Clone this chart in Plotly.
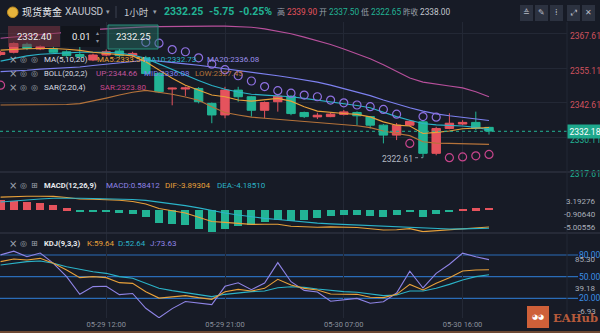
import plotly.graph_objects as go
from plotly.subplots import make_subplots

# ---------------- data ----------------
tick_idx = [8, 17, 26, 35]
tick_text = ["05-29 12:00", "05-29 21:00", "05-30 07:00", "05-30 16:00"]

open_ = [2360.0, 2360.8, 2363.7, 2362.0, 2362.2, 2361.0, 2360.0, 2358.0, 2359.8, 2361.3,
         2359.6, 2358.8, 2353.1, 2347.5, 2347.5, 2347.7, 2342.3, 2338.1, 2347.1, 2344.7,
         2339.8, 2342.9, 2344.9, 2339.0, 2337.4, 2337.5, 2338.3, 2339.0, 2337.5, 2334.4,
         2330.8, 2334.4, 2335.6, 2324.2, 2333.2, 2334.8, 2335.4, 2333.6]
high = [2361.3, 2364.4, 2364.3, 2363.3, 2362.8, 2361.5, 2363.8, 2360.3, 2361.8, 2362.0,
        2361.0, 2359.5, 2353.5, 2348.0, 2348.4, 2348.2, 2342.6, 2348.3, 2348.3, 2345.0,
        2343.0, 2345.3, 2345.2, 2339.3, 2338.9, 2339.0, 2339.9, 2339.4, 2337.7, 2334.8,
        2335.2, 2336.2, 2335.9, 2333.8, 2338.7, 2336.2, 2339.3, 2333.8]
low = [2359.6, 2360.4, 2361.6, 2361.6, 2360.4, 2359.2, 2358.6, 2357.6, 2359.4, 2359.0,
       2359.0, 2352.6, 2346.0, 2341.6, 2345.0, 2342.3, 2335.1, 2336.9, 2342.9, 2337.5,
       2336.9, 2339.3, 2338.0, 2337.0, 2336.6, 2337.3, 2337.9, 2334.4, 2333.2, 2327.8,
       2329.0, 2334.0, 2322.61, 2323.5, 2332.9, 2334.4, 2332.6, 2331.0]
close = [2360.8, 2364.0, 2362.2, 2362.8, 2360.8, 2359.6, 2359.3, 2359.8, 2361.0, 2359.6,
         2360.4, 2353.1, 2346.5, 2347.8, 2347.9, 2342.9, 2338.1, 2347.1, 2344.7, 2339.8,
         2342.6, 2344.9, 2338.6, 2337.5, 2338.0, 2338.4, 2339.2, 2337.8, 2334.4, 2330.8,
         2334.4, 2335.8, 2324.2, 2333.2, 2335.1, 2335.4, 2333.2, 2332.25]

ma5 = [2361.6, 2361.9, 2362.1, 2362.2, 2362.2, 2361.9, 2361.5, 2360.8, 2360.3, 2359.8,
       2359.5, 2357.4, 2354.4, 2351.4, 2348.9, 2347.1, 2345.3, 2344.7, 2343.5, 2343.1,
       2343.5, 2344.1, 2343.1, 2341.1, 2339.5, 2339.0, 2338.6, 2338.3, 2337.4, 2335.6,
       2334.4, 2334.1, 2331.4, 2331.8, 2332.3, 2333.1, 2333.3, 2333.54]
ma10 = [2357.6, 2358.6, 2359.5, 2360.1, 2360.4, 2360.7, 2360.8, 2360.8, 2360.8, 2360.5,
        2359.8, 2358.6, 2356.6, 2354.6, 2352.4, 2350.6, 2348.8, 2347.4, 2346.4, 2345.6,
        2345.3, 2345.1, 2344.7, 2344.1, 2343.5, 2342.9, 2342.2, 2341.5, 2340.7, 2339.0,
        2337.5, 2336.2, 2335.0, 2334.5, 2334.3, 2334.1, 2333.6, 2332.73]
ma20 = [2353.8, 2354.0, 2354.3, 2354.7, 2354.9, 2355.3, 2355.5, 2356.0, 2356.5, 2357.0,
        2357.4, 2357.9, 2357.6, 2357.2, 2356.6, 2356.1, 2355.5, 2354.9, 2354.3, 2353.6,
        2353.0, 2352.3, 2351.6, 2350.9, 2350.0, 2348.9, 2347.7, 2346.5, 2345.1, 2343.5,
        2342.0, 2340.7, 2339.5, 2338.5, 2337.8, 2337.2, 2336.7, 2336.08]
boll_up = [2365.9, 2366.4, 2366.8, 2367.2, 2367.6, 2368.1, 2368.6, 2369.0, 2369.3, 2369.6,
           2369.8, 2370.0, 2370.1, 2370.2, 2370.3, 2370.3, 2370.3, 2370.3, 2370.2, 2369.9,
           2369.3, 2368.5, 2367.5, 2366.3, 2365.0, 2363.6, 2362.0, 2360.3, 2358.5, 2356.3,
           2354.0, 2351.5, 2350.0, 2349.2, 2348.6, 2347.9, 2346.5, 2344.66]
boll_low = [2341.7, 2341.7, 2341.7, 2341.8, 2341.8, 2341.9, 2342.2, 2343.1, 2344.2, 2345.3,
            2346.3, 2347.0, 2346.4, 2345.6, 2344.6, 2343.4, 2341.1, 2339.0, 2338.1, 2337.3,
            2336.9, 2336.5, 2336.1, 2335.8, 2335.4, 2335.0, 2334.7, 2334.2, 2333.5, 2332.3,
            2331.4, 2330.6, 2328.4, 2327.9, 2327.8, 2327.7, 2327.5, 2327.45]
sar_above = [None, None, None, None, None, None, None, None, None, None,
             None, 2364.4, 2364.1, 2361.8, 2361.0, 2358.8, 2356.5, 2354.5, 2352.3, 2350.4,
             2348.4, 2346.9, 2346.0, 2345.3, 2344.7, 2343.5, 2342.5, 2341.7, 2341.1, 2340.1,
             2338.4, None, 2337.5, 2337.3, None, None, None, None]
sar_below = [2348.9, None, None, None, None, None, None, None, None, None,
             None, None, None, None, None, None, None, None, None, None,
             None, None, None, None, None, None, None, None, None, None,
             None, 2327.8, None, None, 2322.61, 2322.9, 2323.3, 2323.8]

macd_hist = [2.3, 2.17, 1.79, 1.56, 1.17, 0.4, -0.35, -0.35, -0.4, -0.6,
             -0.9, -1.66, -3.0, -3.1, -3.4, -4.3, -5.006, -4.3, -3.7, -3.45,
             -2.7, -2.2, -2.45, -2.3, -1.9, -1.36, -1.13, -1.13, -1.36, -1.5,
             -1.13, -0.5, -1.5, -0.85, -0.3, 0.25, 0.4, 0.584]
dif = [2.98, 3.12, 3.17, 3.19, 3.15, 2.9, 2.55, 2.5, 2.43, 2.25,
       1.99, 1.4, 0.36, -0.08, -0.66, -1.64, -2.62, -2.81, -2.97, -3.28,
       -3.24, -3.26, -3.7, -3.91, -3.95, -3.85, -3.87, -4.01, -4.3, -4.56,
       -4.51, -4.26, -4.95, -4.73, -4.49, -4.18, -4.06, -3.893]
dea = [1.88, 2.15, 2.37, 2.57, 2.71, 2.76, 2.72, 2.68, 2.63, 2.55,
       2.44, 2.23, 1.86, 1.47, 1.04, 0.51, -0.12, -0.66, -1.12, -1.55,
       -1.89, -2.16, -2.47, -2.76, -3.0, -3.17, -3.31, -3.45, -3.62, -3.81,
       -3.95, -4.01, -4.2, -4.3, -4.34, -4.31, -4.26, -4.185]

k_line = [70.8, 74.5, 73.1, 75.4, 68.5, 59.2, 48.6, 50.0, 48.6, 41.7,
          40.7, 29.2, 20.3, 22.3, 23.7, 20.9, 18.6, 29.2, 32.4, 30.1,
          33.8, 46.3, 38.4, 33.8, 31.5, 26.0, 25.5, 25.5, 21.4, 20.9,
          25.5, 39.3, 31.5, 40.7, 48.6, 57.8, 59.2, 59.64]
d_line = [66.1, 68.5, 70.8, 71.7, 68.5, 63.8, 60.1, 56.9, 54.6, 50.0,
          47.7, 40.7, 33.8, 30.6, 27.8, 24.6, 22.3, 25.5, 27.8, 29.2,
          30.1, 34.7, 36.1, 35.2, 32.9, 31.0, 29.2, 28.3, 25.5, 23.7,
          24.6, 30.1, 30.1, 33.8, 39.3, 45.4, 50.0, 52.64]
j_line = [80.2, 85.3, 77.7, 82.8, 68.5, 50.0, 25.6, 36.2, 36.6, 25.1,
          26.7, 6.2, -6.93, 5.7, 15.5, 13.5, 11.2, 36.6, 41.6, 31.9,
          41.2, 69.5, 43.0, 31.0, 28.7, 16.0, 18.1, 19.9, 13.2, 15.3,
          27.3, 57.7, 34.3, 54.5, 67.2, 82.6, 77.6, 73.63]

price_ticks = [2367.61, 2355.11, 2342.61, 2330.11, 2317.61]
last_price = 2332.18
low_mark = 2322.61
kdj_levels = [80, 50, 20]
macd_marks = [3.19276, -0.90640, -5.00556]
kdj_marks = [85.30, 39.18, -6.93]

# ---------------- style ----------------
BG = "#171b26"
GRID = "#232835"
RED = "#e5535d"
GREEN = "#22b495"
ORANGE = "#e8a13a"
TEAL = "#2bb3c8"
VIOLET = "#7d81f0"
PINK = "#b8509c"
BROWN = "#b5733a"
SAR_DN = "#8e70e0"
SAR_UP = "#c8458c"
PURPLE = "#8f84e6"
KBLUE = "#2a6cb8"
LBL = "#a9aeb9"
FONT = "Roboto, Liberation Sans, sans-serif"
CJK = "Noto Sans CJK SC, sans-serif"

W, H = 600, 333
ML, MR, MT, MB = 0, 33, 0, 15
PW, PH = W - ML - MR, H - MT - MB


def X(px):
    return (px - ML) / PW


def Y(py):
    return 1 - (py - MT) / PH


x = list(range(len(close)))

fig = make_subplots(rows=3, cols=1, shared_xaxes=True, vertical_spacing=0)

# main panel
fig.add_trace(go.Candlestick(
    x=x, open=open_, high=high, low=low, close=close,
    increasing=dict(line=dict(color=RED, width=1), fillcolor=RED),
    decreasing=dict(line=dict(color=GREEN, width=1), fillcolor=GREEN),
    whiskerwidth=0, hoverinfo="skip"), row=1, col=1)
for ser, col in [(boll_up, PINK), (boll_low, BROWN), (ma20, VIOLET),
                 (ma10, TEAL), (ma5, ORANGE)]:
    fig.add_trace(go.Scatter(x=x, y=ser, mode="lines",
                             line=dict(color=col, width=1.1), hoverinfo="skip"),
                  row=1, col=1)
fig.add_trace(go.Scatter(x=x, y=sar_above, mode="markers",
                         marker=dict(symbol="circle-open", size=8,
                                     line=dict(color=SAR_DN, width=1.2), color=SAR_DN),
                         hoverinfo="skip"), row=1, col=1)
fig.add_trace(go.Scatter(x=x, y=sar_below, mode="markers",
                         marker=dict(symbol="circle-open", size=8,
                                     line=dict(color=SAR_UP, width=1.2), color=SAR_UP),
                         hoverinfo="skip"), row=1, col=1)

# MACD panel
fig.add_trace(go.Bar(x=x, y=macd_hist, width=0.62,
                     marker=dict(color=[RED if v > 0 else GREEN for v in macd_hist],
                                 line=dict(width=0)),
                     hoverinfo="skip"), row=2, col=1)
fig.add_trace(go.Scatter(x=x, y=dif, mode="lines", line=dict(color=ORANGE, width=1.1),
                         hoverinfo="skip"), row=2, col=1)
fig.add_trace(go.Scatter(x=x, y=dea, mode="lines", line=dict(color=TEAL, width=1.1),
                         hoverinfo="skip"), row=2, col=1)

# KDJ panel
for ser, col in [(j_line, PURPLE), (d_line, TEAL), (k_line, ORANGE)]:
    fig.add_trace(go.Scatter(x=x, y=ser, mode="lines", line=dict(color=col, width=1.1),
                             hoverinfo="skip"), row=3, col=1)

xr = [-0.045, (PW - 0.6) / 13.2]
for i, ax in enumerate(["xaxis", "xaxis2", "xaxis3"]):
    fig.layout[ax].update(range=xr, tickvals=tick_idx, ticktext=tick_text,
                          showgrid=True, gridcolor=GRID, gridwidth=1, zeroline=False,
                          showline=False, ticks="", rangeslider=dict(visible=False),
                          showticklabels=(i == 2),
                          tickfont=dict(family=FONT, size=7.5, color="#8a909c"))

price_text = ["<span style='color:%s'>%.2f</span>" % ("#d0525e" if v > last_price else GREEN, v)
              for v in price_ticks]
fig.update_layout(
    yaxis=dict(domain=[Y(172), Y(22)], range=[2317.43, 2371.78], side="right",
               tickvals=price_ticks, ticktext=price_text, showgrid=True, gridcolor=GRID,
               zeroline=False, ticks="", ticklabelshift=3, ticklabelstandoff=2,
               tickfont=dict(family=FONT, size=8.5)),
    yaxis2=dict(domain=[Y(233), Y(172)], range=[-5.26, 8.76], side="right",
                showticklabels=False, showgrid=False, zeroline=False),
    yaxis3=dict(domain=[Y(318), Y(233)], range=[-7.3, 110.5], side="right",
                tickvals=kdj_levels, ticktext=["%.2f" % v for v in kdj_levels],
                showgrid=False, zeroline=False, ticks="", ticklabelstandoff=11,
                tickfont=dict(family=FONT, size=8.5, color="#3a8ee6")),
    width=W, height=H, margin=dict(l=ML, r=MR, t=MT, b=MB),
    paper_bgcolor=BG, plot_bgcolor=BG, showlegend=False, bargap=0,
    boxgap=0.36, boxgroupgap=0,
    font=dict(family=FONT, color=LBL),
)

shapes = []
ann = []


def txt(px, py, s, color, size=8, family=FONT, anchor="left", bold=False, **kw):
    if bold:
        s = "<b>%s</b>" % s
    ann.append(dict(x=X(px), y=Y(py), xref="paper", yref="paper", text=s,
                    showarrow=False, xanchor=anchor, yanchor="middle",
                    font=dict(family=family, size=size, color=color), **kw))


# KDJ reference levels
for v in kdj_levels:
    shapes.append(dict(type="line", xref="paper", yref="y3", x0=0, x1=X(578), y0=v, y1=v,
                       line=dict(color=KBLUE, width=1.2), layer="below"))
# current price dotted line and tag
shapes.append(dict(type="line", xref="paper", yref="y", x0=0, x1=1, y0=last_price,
                   y1=last_price, line=dict(color=GREEN, width=1, dash="dot")))
ann.append(dict(x=1, y=last_price, xref="paper", yref="y", text="2332.18",
                showarrow=False, xanchor="left", yanchor="middle", bgcolor="#1ea88c",
                borderpad=1.5, font=dict(family=FONT, size=8.5, color="#ffffff")))
# low marker
shapes.append(dict(type="line", xref="x", yref="y", x0=31.4, x1=32, y0=low_mark, y1=low_mark,
                   line=dict(color="#8a909c", width=1, dash="dot")))
ann.append(dict(x=31.4, y=low_mark, xref="x", yref="y", text="2322.61", showarrow=False,
                xanchor="right", yanchor="middle", yshift=-1,
                font=dict(family=FONT, size=8.5, color="#b5bac4")))

# MACD / KDJ scale marks
macd_shift = [-5, 0, 4]
for v, s in zip(macd_marks, macd_shift):
    ann.append(dict(x=1, y=v, xref="paper", yref="y2", text="%.5f" % v, showarrow=False,
                    xanchor="right", yanchor="middle", xshift=31, yshift=s,
                    font=dict(family=FONT, size=8, color=LBL)))
kdj_shift = [-8, -4, 6]
for v, s in zip(kdj_marks, kdj_shift):
    ann.append(dict(x=1, y=v, xref="paper", yref="y3", text="%.2f" % v, showarrow=False,
                    xanchor="right", yanchor="middle", xshift=31, yshift=s,
                    font=dict(family=FONT, size=8, color=LBL)))

# separators
for py in (172, 233):
    shapes.append(dict(type="line", xref="paper", yref="paper", x0=0, x1=X(600), y0=Y(py),
                       y1=Y(py), line=dict(color="#2c313e", width=1.5)))
shapes.append(dict(type="line", xref="paper", yref="paper", x0=X(567), x1=X(567),
                   y0=Y(318), y1=Y(22), line=dict(color=GRID, width=1)))
shapes.append(dict(type="line", xref="paper", yref="paper", x0=0, x1=X(600), y0=Y(332),
                   y1=Y(332), line=dict(color="#6e4832", width=2)))

# header
shapes.append(dict(type="circle", xref="paper", yref="paper", x0=X(7.5), x1=X(18),
                   y0=Y(17.5), y1=Y(7), fillcolor="#e6b43c", line=dict(color="#c48f22", width=1)))
txt(20, 12, "现货黄金", "#e6e8ec", 10, CJK)
txt(63, 12, "XAUUSD", "#c3c7cf", 10)
txt(104, 12, "▾", "#9aa0aa", 7)
shapes.append(dict(type="line", xref="paper", yref="paper", x0=X(116), x1=X(116),
                   y0=Y(18), y1=Y(6), line=dict(color="#3c4250", width=1)))
txt(122, 12, "1小时", "#c3c7cf", 9.5, CJK)
txt(151, 12, "▾", "#9aa0aa", 7)
txt(162, 12, "2332.25", GREEN, 10.5, bold=True)
txt(207, 12, "-5.75", GREEN, 10.5, bold=True)
txt(237, 12, "-0.25%", GREEN, 10.5, bold=True)
txt(275, 12, "高", "#9aa0aa", 8, CJK)
txt(285, 12, "2339.90", RED, 8.3)
txt(317, 12, "开", "#9aa0aa", 8, CJK)
txt(327, 12, "2337.50", GREEN, 8.3)
txt(359, 12, "低", "#9aa0aa", 8, CJK)
txt(369, 12, "2322.65", GREEN, 8.3)
txt(401, 12, "昨收", "#9aa0aa", 7.5, CJK)
txt(418, 12, "2338.00", "#c3c7cf", 8.3)
for bx, icon in zip([520, 535, 550, 567, 582], ["≙", "✎", "⁞", "⤢", "✕"]):
    shapes.append(dict(type="rect", xref="paper", yref="paper", x0=X(bx), x1=X(bx + 13),
                       y0=Y(21), y1=Y(5), fillcolor="#2c3240", line=dict(width=0)))
    txt(bx + 6.5, 13, icon, "#b8bcc6", 8, "DejaVu Sans", anchor="center")

# order widget boxes
shapes.append(dict(type="rect", xref="paper", yref="paper", x0=X(8), x1=X(60), y0=Y(47),
                   y1=Y(26), fillcolor="rgba(125,52,66,0.55)", line=dict(width=0)))
txt(34, 37, "2332.40", "#f0f0f0", 9.5, anchor="center")
shapes.append(dict(type="rect", xref="paper", yref="paper", x0=X(61), x1=X(100), y0=Y(47),
                   y1=Y(26), fillcolor="#11141b", line=dict(width=0)))
txt(70, 37, "0.01", "#f0f0f0", 9.5)
txt(97, 33, "▴", "#8a909c", 6, "DejaVu Sans", anchor="center")
txt(97, 41, "▾", "#8a909c", 6, "DejaVu Sans", anchor="center")
shapes.append(dict(type="rect", xref="paper", yref="paper", x0=X(108), x1=X(158), y0=Y(49),
                   y1=Y(25), fillcolor="rgba(38,120,104,0.45)",
                   line=dict(color="#2b8f7c", width=1)))
txt(133, 37, "2332.25", "#f0f0f0", 9.5, anchor="center")

# indicator legends
ICON = "#a0a5b0"


def icons(py, third="◎"):
    txt(12.5, py, "×", ICON, 10, "DejaVu Sans", anchor="center")
    txt(23.5, py, "◎", ICON, 8, "DejaVu Sans", anchor="center")
    txt(34.5, py, third, ICON, 8, "DejaVu Sans", anchor="center")


icons(60)
txt(42, 60, "MA(5,10,20)", "#d8dbe0")
txt(95, 60, "MA5:2333.54", ORANGE)
txt(142, 60, "MA10:2332.73", TEAL)
txt(205, 60, "MA20:2336.08", "#9a8ee8")
icons(73.5)
txt(42, 73.5, "BOLL(20,2,2)", "#d8dbe0", 7.6)
txt(94, 73.5, "UP:2344.66", "#c0559f")
txt(142, 73.5, "MID:2336.08", VIOLET)
txt(193, 73.5, "LOW:2327.45", BROWN)
icons(87)
txt(42, 87, "SAR(2,20,4)", "#d8dbe0")
txt(98, 87, "SAR:2323.80", "#c8458c")

icons(185, "⊞")
txt(42, 185, "MACD(12,26,9)", "#e6e8ec", 7.6, bold=True)
txt(104, 185, "MACD:0.58412", PURPLE)
txt(163, 185, "DIF:-3.89304", ORANGE)
txt(215, 185, "DEA:-4.18510", TEAL)
icons(243.5, "⊞")
txt(42, 243.5, "KDJ(9,3,3)", "#e6e8ec", 7.6, bold=True)
txt(85, 243.5, "K:59.64", ORANGE)
txt(116, 243.5, "D:52.64", TEAL)
txt(148, 243.5, "J:73.63", PURPLE)

# watermark
shapes.append(dict(type="rect", xref="paper", yref="paper", x0=X(527), x1=X(549),
                   y0=Y(328), y1=Y(306), fillcolor="rgba(226,104,60,0.9)",
                   line=dict(width=0)))
txt(538, 317, "◕◕", "#ffffff", 7, "DejaVu Sans", anchor="center")
txt(551, 318, "<b>EAHub</b>", "rgba(205,100,62,0.9)", 11.5, "DejaVu Serif")

fig.update_layout(shapes=shapes, annotations=ann)
fig.write_html("out.html")
